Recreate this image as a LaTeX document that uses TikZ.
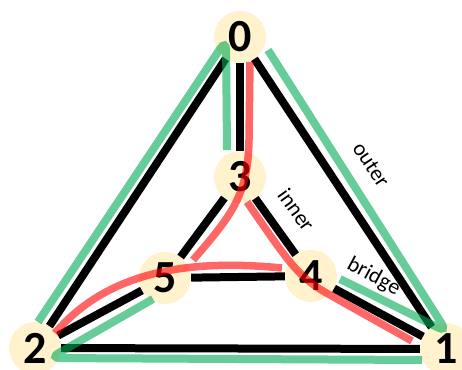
\documentclass[tikz,border=0pt]{standalone}
\usepackage{fontspec}
\setmainfont{Carlito}
\definecolor{nodefill}{RGB}{255,242,204}
\definecolor{outergreen}{RGB}{0,170,85}
\definecolor{innerred}{RGB}{255,0,0}
\begin{document}
\begin{tikzpicture}[x=1pt,y=-1pt,
	vertex/.style={circle,fill=nodefill,minimum size=52pt,inner sep=0pt,font=\fontsize{46}{46}\selectfont\bfseries},
	blackedge/.style={line width=8pt},
	greenpath/.style={line width=8pt,draw=outergreen,opacity=0.6,rounded corners=10pt},
	redpath/.style={line width=7.5pt,draw=innerred,opacity=0.6},
	edgelabel/.style={font=\fontsize{22}{22}\selectfont,sloped,inner sep=0pt}]
	\useasboundingbox (0,0) rectangle (462,369);
	% vertices
	\node[vertex] (n0) at (240,37) {0};
	\node[vertex] (n1) at (446,349) {1};
	\node[vertex] (n2) at (35,348) {2};
	\node[vertex] (n3) at (240,177) {3};
	\node[vertex] (n4) at (311,276) {4};
	\node[vertex] (n5) at (165,278) {5};
	% edges
	\draw[blackedge] (n0) -- (n1) node[edgelabel,pos=0.475,above=28pt] {outer};
	\draw[blackedge] (n0) -- (n2);
	\draw[blackedge] (n0) -- (n3);
	\draw[blackedge] (n2) -- (n1);
	\draw[blackedge] (n2) -- (n5);
	\draw[blackedge] (n3) -- (n5);
	\draw[blackedge] (n3) -- (n4) node[edgelabel,pos=0.48,above=15pt] {inner};
	\draw[blackedge] (n5) -- (n4);
	\draw[blackedge] (n4) -- (n1) node[edgelabel,pos=0.29,above=15.5pt] {bridge};
	% green paths
	\coordinate (gA1) at (227,150);
	\coordinate (gA2) at (226,40);
	\coordinate (gA3) at (38,322);
	\coordinate (gB1) at (153,299);
	\coordinate (gB2) at (50,358);
	\coordinate (gB3) at (422,360);
	\coordinate (gC1) at (268,50);
	\coordinate (gC2) at (447,332);
	\coordinate (gC3) at (340,279);
	\draw[greenpath] (gA1) -- (gA2) -- (gA3);
	\draw[greenpath] (gB1) -- (gB2) -- (gB3);
	\draw[greenpath] (gC1) -- (gC2) -- (gC3);
	% red paths
	\coordinate (rA1) at (250,62);
	\coordinate (rA2) at (249,140);
	\coordinate (rA3) at (193,260);
	\coordinate (rB1) at (247,202);
	\coordinate (rB2) at (272,238);
	\coordinate (rB3) at (330,295);
	\coordinate (rB4) at (412,341);
	\coordinate (rC1) at (55,333);
	\coordinate (rC2) at (282,268);
	\draw[redpath] (rA1) -- (rA2) .. controls (248,195) and (232,215) .. (rA3);
	\draw[redpath] (rB1) -- (rB2) .. controls (290,263) and (302,280) .. (rB3) -- (rB4);
	\draw[redpath] (rC1) .. controls (105,275) and (180,258) .. (rC2);
\end{tikzpicture}
\end{document}
